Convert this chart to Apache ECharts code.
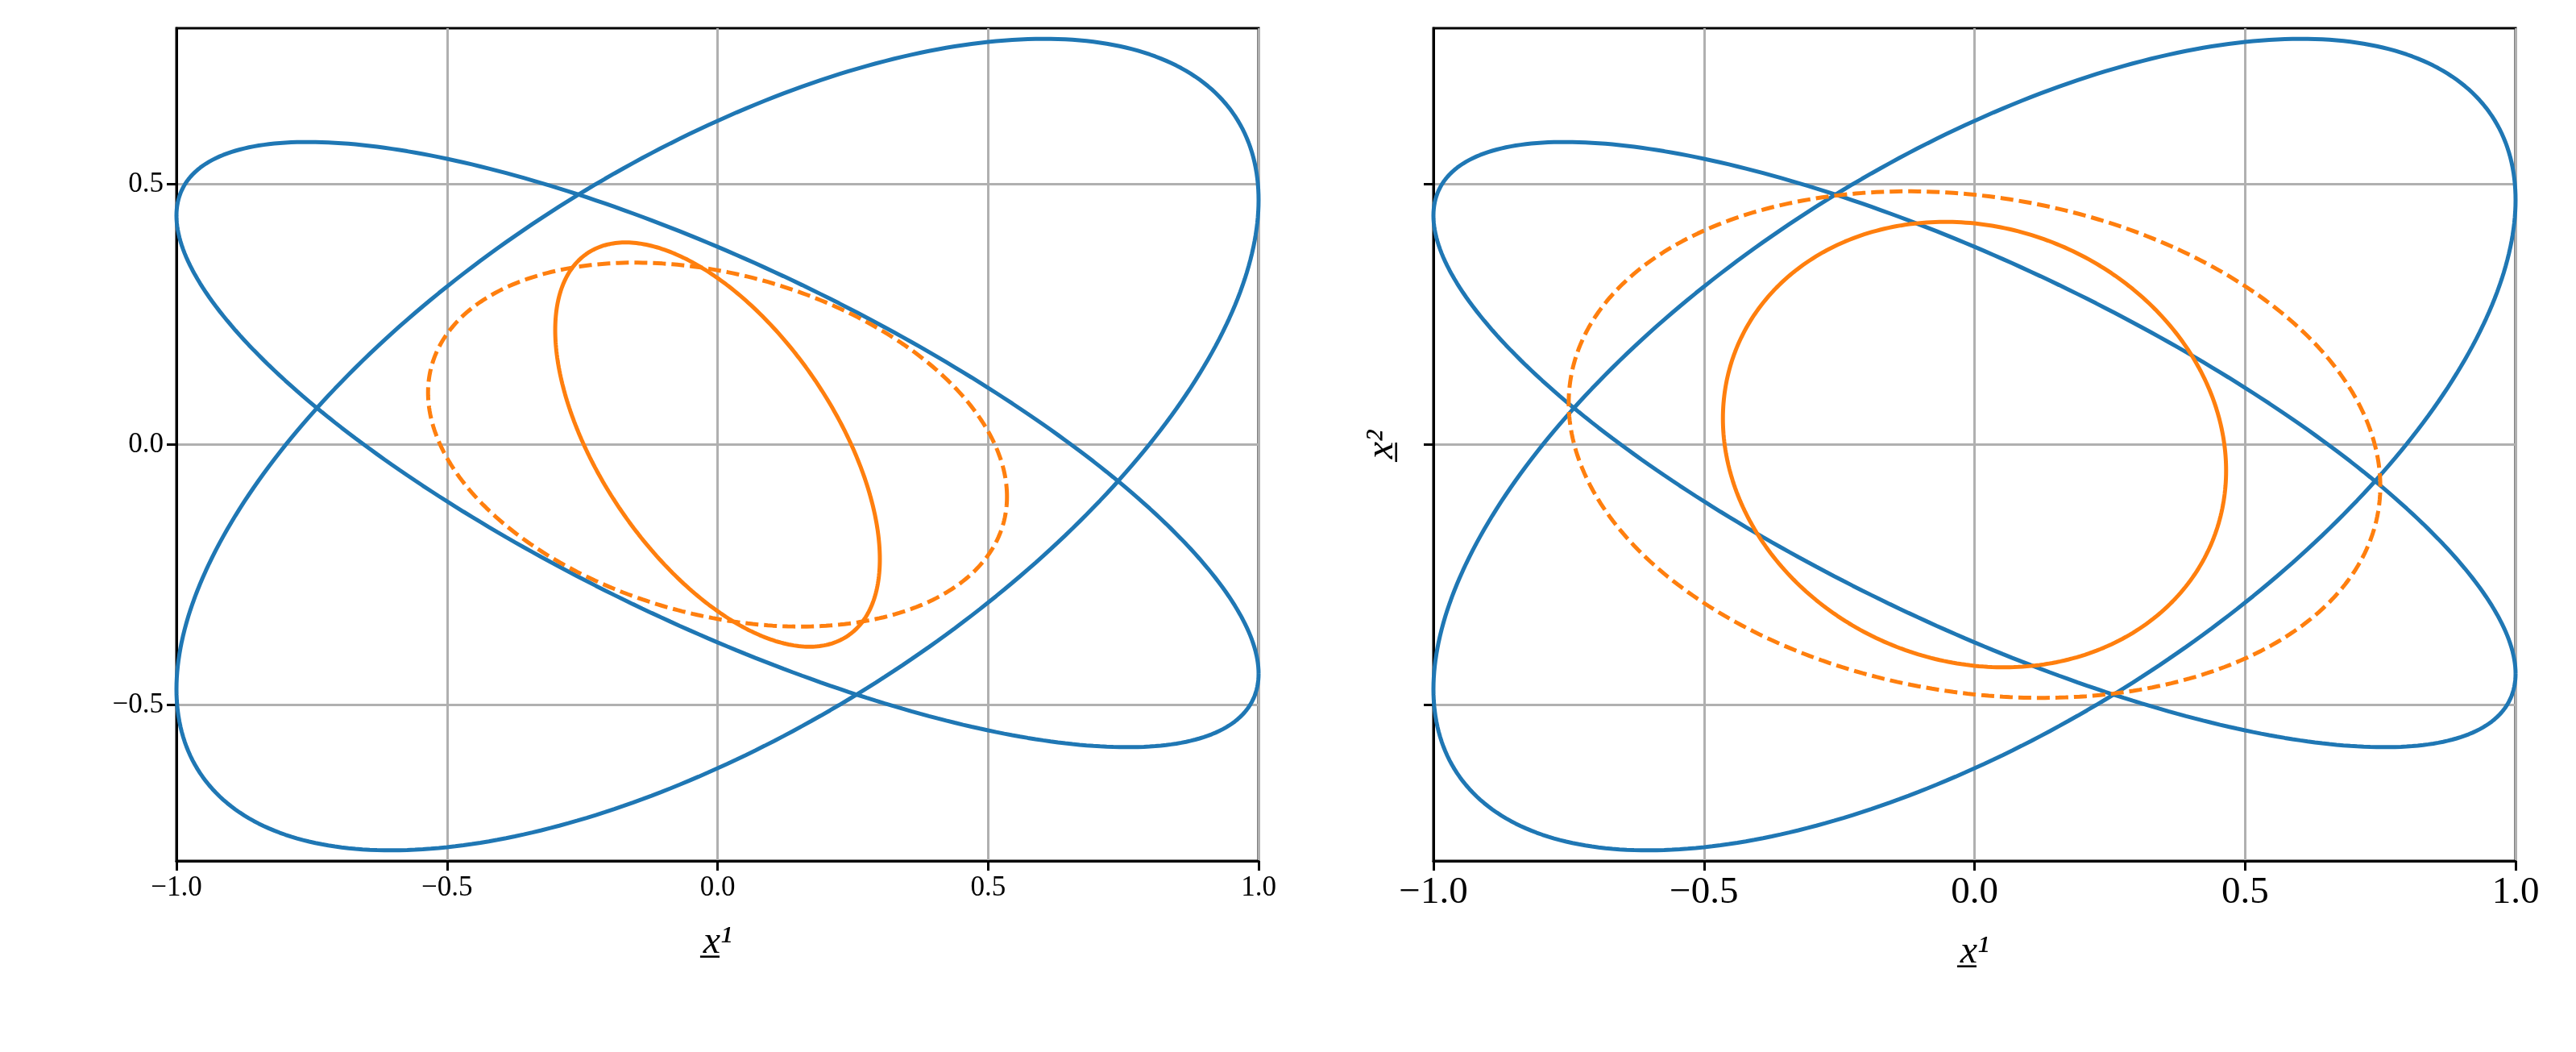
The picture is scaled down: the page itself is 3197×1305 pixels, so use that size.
<!DOCTYPE html>
<html><head><meta charset="utf-8">
<script src="https://cdn.jsdelivr.net/npm/echarts@6/dist/echarts.min.js"></script>
<style>html,body{margin:0;background:#fff}#c{width:3197px;height:1305px}</style>
</head><body><div id="c"></div>
<script>
// ellipses as x = ax*cos t, y = ay*cos t + by*sin t
var blueA = [1.0, 0.47, 0.622];
var blueB = [1.0, -0.44, 0.38];
var leftSolid = [0.30, -0.22, 0.32];
var leftDashed = [0.535, -0.10, 0.335];
var rightSolid = [0.465, -0.05, 0.425];
var rightDashed = [0.75, -0.08, 0.48];
var xTicks = [-1.0, -0.5, 0.0, 0.5, 1.0];
var yTicks = [-0.5, 0.0, 0.5];

function ellipse(p) {
    var pts = [];
    for (var i = 0; i <= 360; i++) {
        var t = i * Math.PI / 180;
        pts.push([p[0] * Math.cos(t), p[1] * Math.cos(t) + p[2] * Math.sin(t)]);
    }
    return pts;
}
function fmt(v) { return (v < 0 ? '\u2212' : '') + Math.abs(v).toFixed(1); }
var serif = 'Liberation Serif';

function xAxis(i, fs) {
    return {
        gridIndex: i, type: 'value', min: -1, max: 1,
        axisLine: {show: true, onZero: false, lineStyle: {color: '#000', width: 3}},
        axisTick: {show: true, inside: false, length: 12, lineStyle: {color: '#000', width: 3}, customValues: xTicks},
        axisLabel: {customValues: xTicks, formatter: fmt, color: '#000', fontFamily: serif, fontSize: fs, margin: 16},
        splitLine: {show: true, lineStyle: {color: '#b0b0b0', width: 3}},
        name: 'x\u0332\u00b9', nameLocation: 'middle', nameGap: fs + 42,
        nameTextStyle: {fontFamily: serif, fontSize: 48, color: '#000', fontStyle: 'italic'}
    };
}
function yAxis(i, labels) {
    return {
        gridIndex: i, type: 'value', min: -0.8, max: 0.8,
        axisLine: {show: true, onZero: false, lineStyle: {color: '#000', width: 3}},
        axisTick: {show: true, inside: false, length: 12, lineStyle: {color: '#000', width: 3}, customValues: yTicks},
        axisLabel: {show: labels, customValues: yTicks, formatter: fmt, color: '#000', fontFamily: serif, fontSize: 35, margin: 16},
        splitLine: {show: true, lineStyle: {color: '#b0b0b0', width: 3}},
        name: labels ? '' : 'x\u0332\u00b2', nameLocation: 'middle', nameGap: 40, nameRotate: 90,
        nameTextStyle: {fontFamily: serif, fontSize: 48, color: '#000', fontStyle: 'italic'}
    };
}
function line(data, color, dashed, i) {
    return {
        type: 'line', xAxisIndex: i, yAxisIndex: i, data: data, showSymbol: false, silent: true,
        lineStyle: {color: color, width: 5, type: dashed ? [16, 7] : 'solid'}, z: 3
    };
}

var chart = echarts.init(document.getElementById('c'));
chart.setOption({
    animation: false,
    backgroundColor: '#fff',
    grid: [
        {left: 219, width: 1343, top: 35, height: 1033, show: true, borderColor: '#000', borderWidth: 3},
        {left: 1779, width: 1343, top: 35, height: 1033, show: true, borderColor: '#000', borderWidth: 3}
    ],
    xAxis: [xAxis(0, 35), xAxis(1, 47)],
    yAxis: [yAxis(0, true), yAxis(1, false)],
    series: [
        line(ellipse(blueA), '#1f77b4', false, 0),
        line(ellipse(blueB), '#1f77b4', false, 0),
        line(ellipse(leftSolid), '#ff7f0e', false, 0),
        line(ellipse(leftDashed), '#ff7f0e', true, 0),
        line(ellipse(blueA), '#1f77b4', false, 1),
        line(ellipse(blueB), '#1f77b4', false, 1),
        line(ellipse(rightSolid), '#ff7f0e', false, 1),
        line(ellipse(rightDashed), '#ff7f0e', true, 1)
    ]
});
</script></body></html>
